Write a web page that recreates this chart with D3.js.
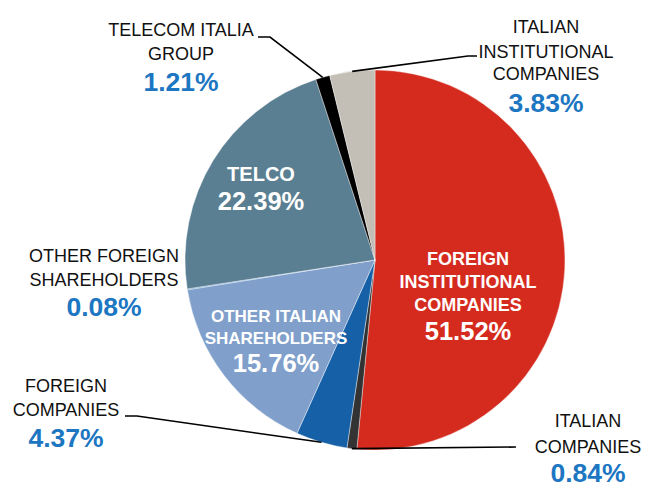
<!DOCTYPE html>
<html>
<head>
<meta charset="utf-8">
<script src="https://cdn.jsdelivr.net/npm/d3@7"></script>
<style>
  html, body { margin: 0; padding: 0; background: #fff; }
  svg { display: block; font-family: "Liberation Sans", Arial, sans-serif; }
</style>
</head>
<body>
<svg id="chart" width="650" height="488"></svg>
<script>
// ---- data ----
const categories = [
  "FOREIGN INSTITUTIONAL COMPANIES",
  "ITALIAN COMPANIES",
  "FOREIGN COMPANIES",
  "OTHER ITALIAN SHAREHOLDERS",
  "OTHER FOREIGN SHAREHOLDERS",
  "TELCO",
  "TELECOM ITALIA GROUP",
  "ITALIAN INSTITUTIONAL COMPANIES"
];
const values = [51.52, 0.84, 4.37, 15.76, 0.08, 22.39, 1.21, 3.83];
const labelLines = [
  ["FOREIGN", "INSTITUTIONAL", "COMPANIES"],
  ["ITALIAN", "COMPANIES"],
  ["FOREIGN", "COMPANIES"],
  ["OTHER ITALIAN", "SHAREHOLDERS"],
  ["OTHER FOREIGN", "SHAREHOLDERS"],
  ["TELCO"],
  ["TELECOM ITALIA", "GROUP"],
  ["ITALIAN", "INSTITUTIONAL", "COMPANIES"]
];

// ---- style / layout ----
const colors = ["#D52B1E", "#333333", "#1560A7", "#809FCB", "#3E8CCB", "#5B7F92", "#000000", "#C4BFB6"];
const cx = 375, cy = 260, R = 190;
// label layout: inside (white, bold) or outside (black + blue pct)
const layout = [
  { inside: true,  x: 468, ys: [265, 288, 311], py: 340, fs: 18 },
  { inside: false, x: 588, ys: [427, 453], py: 482, leader: [[516, 447]] },
  { inside: false, x: 66,  ys: [392, 416], py: 447, leader: [[137, 416], [125, 416]] },
  { inside: true,  x: 276, ys: [322, 344], py: 372, fs: 17 },
  { inside: false, x: 104, ys: [262, 286], py: 316 },
  { inside: true,  x: 261, ys: [181], py: 210, fs: 20 },
  { inside: false, x: 181, ys: [36, 60], py: 91, leader: [[270, 37], [258, 37]] },
  { inside: false, x: 546, ys: [33, 57.5, 80], py: 112, leader: [[468, 56], [477, 56]] }
];

const svg = d3.select("#chart");
const g = svg.append("g").attr("transform", `translate(${cx},${cy})`);

const pie = d3.pie().sort(null).value(d => d)(values);
const arc = d3.arc().innerRadius(0).outerRadius(R);

g.selectAll("path.slice")
  .data(pie)
  .join("path")
  .attr("class", "slice")
  .attr("d", arc)
  .attr("fill", (d, i) => colors[i])
  .attr("stroke", "#fff")
  .attr("stroke-width", 0.4);

// leader lines
const line = d3.line();
pie.forEach((d, i) => {
  const L = layout[i];
  if (!L.leader) return;
  const mid = (d.startAngle + d.endAngle) / 2;
  const start = [cx + R * Math.sin(mid), cy - R * Math.cos(mid)];
  svg.append("path")
    .attr("d", line([start, ...L.leader]))
    .attr("fill", "none")
    .attr("stroke", "#000")
    .attr("stroke-width", 1.6);
});

// labels
pie.forEach((d, i) => {
  const L = layout[i];
  const pct = values[i].toFixed(2) + "%";
  if (L.inside) {
    labelLines[i].forEach((t, k) => {
      svg.append("text")
        .attr("x", L.x).attr("y", L.ys[k])
        .attr("text-anchor", "middle")
        .attr("fill", "#fff")
        .attr("font-weight", "bold")
        .attr("font-size", L.fs)
        .text(t);
    });
    svg.append("text")
      .attr("x", L.x).attr("y", L.py)
      .attr("text-anchor", "middle")
      .attr("fill", "#fff")
      .attr("font-weight", "bold")
      .attr("font-size", 25.5)
      .text(pct);
  } else {
    labelLines[i].forEach((t, k) => {
      svg.append("text")
        .attr("x", L.x).attr("y", L.ys[k])
        .attr("text-anchor", "middle")
        .attr("fill", "#111")
        .attr("font-size", 18)
        .text(t);
    });
    svg.append("text")
      .attr("x", L.x).attr("y", L.py)
      .attr("text-anchor", "middle")
      .attr("fill", "#1C76C2")
      .attr("font-weight", "bold")
      .attr("font-size", 26.5)
      .text(pct);
  }
});
</script>
</body>
</html>
